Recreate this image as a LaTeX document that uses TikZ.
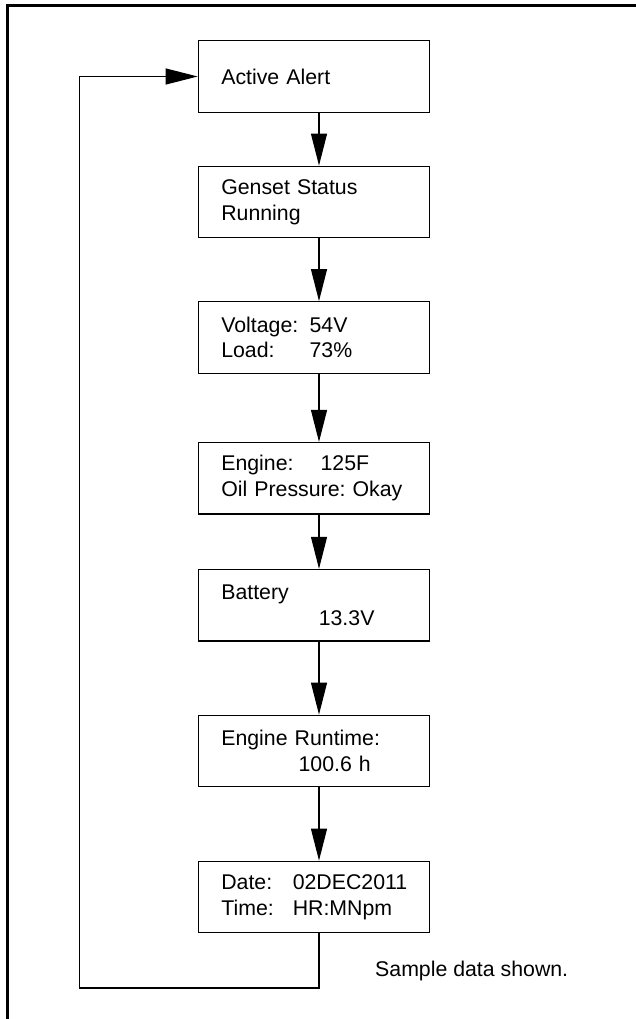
\documentclass[tikz,border=0pt]{standalone}
\usepackage{fontspec}
\setmainfont{Liberation Sans}
\usepackage{tikz}
\usetikzlibrary{arrows.meta,calc}
\frenchspacing

\begin{document}
\begin{tikzpicture}[
          x=1pt, y=-1pt,
          screen/.style={draw, line width=1.3pt, text width=185pt, inner xsep=23pt, inner ysep=0pt, minimum height=71.5pt, align=left, font=\fontsize{21.3pt}{25.7pt}\selectfont},
          arr/.style={-{Triangle[length=32pt, width=16pt]}, line width=1.2pt}
      ]
        \useasboundingbox (0,0) rectangle (636,1019);
        \draw[line width=3pt] (7.5,1019) -- (7.5,5.7) -- (636,5.7);
        \node[screen] (alert) at (313.8,76.5) {Active Alert};
        \node[screen] (status) at (313.8,202) {Genset Status\\Running};
        \node[screen] (volt) at (313.8,337.5) {\makebox[88.3pt][l]{Voltage:}54V\\\makebox[88.3pt][l]{Load:}73\%};
        \node[screen] (engine) at (313.8,478.3) {\makebox[99.3pt][l]{Engine:}125F\\Oil Pressure: Okay};
        \node[screen] (battery) at (313.8,605.2) {Battery\\\hspace*{97.5pt}13.3V};
        \node[screen] (runtime) at (313.8,751) {Engine Runtime:\\\hspace*{77.3pt}100.6 h};
        \node[screen] (clock) at (313.8,897) {\makebox[71.5pt][l]{Date:}02DEC2011\\\makebox[71.5pt][l]{Time:}HR:MNpm};
        \node[anchor=base west, inner sep=0pt, font=\fontsize{21.3pt}{25.7pt}\selectfont] (note) at (375,976.7) {Sample data shown.};
        \coordinate (loop) at (79.3,988);
        \foreach \a/\b in {alert/status, status/volt, volt/engine, engine/battery, battery/runtime, runtime/clock}
          \draw[arr] ([xshift=5.2pt]\a.south) -- ([xshift=5.2pt]\b.north);
        \draw[arr] ([xshift=5.2pt]clock.south) |- (loop) |- (alert.west);
      \end{tikzpicture}
\end{document}
